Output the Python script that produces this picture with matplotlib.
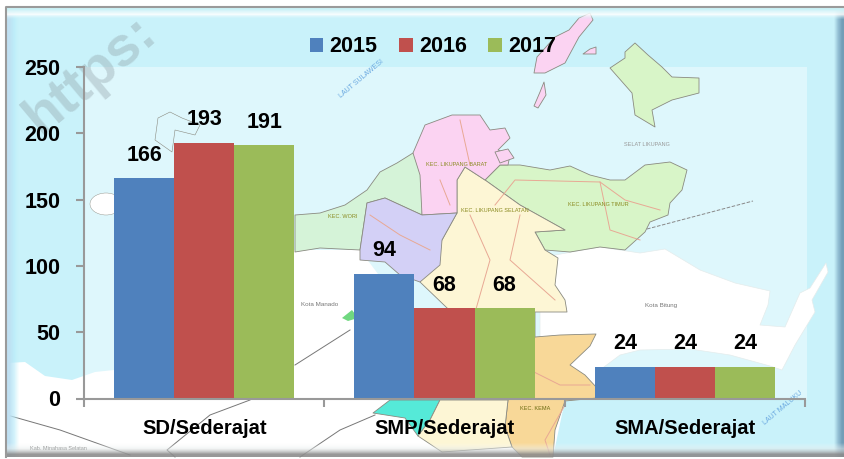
#!/usr/bin/env python3
"""Jumlah sekolah per jenjang 2015-2017, bars over a pale map backdrop."""
import matplotlib
matplotlib.use("Agg")
import matplotlib.pyplot as plt
from matplotlib.patches import Polygon, Rectangle, Ellipse
import numpy as np

# Data
categories = ["SD/Sederajat", "SMP/Sederajat", "SMA/Sederajat"]
years = ["2015", "2016", "2017"]
values_2015 = [166, 94, 24]
values_2016 = [193, 68, 24]
values_2017 = [191, 68, 24]
y_ticks = [0, 50, 100, 150, 200, 250]

C_2015 = "#4F81BD"
C_2016 = "#C0504D"
C_2017 = "#9BBB59"

# Map colours
C_SEA = "#c9f2fa"
C_SEA2 = "#def7fc"
C_PINK = "#fbd3f2"
C_GREEN = "#d8f5c8"
C_TEAL = "#d5f3d8"
C_CREAM = "#fdf6d5"
C_PURPLE = "#d3d0f6"
C_ORANGE = "#f8d898"
C_CYAN = "#55ead8"
C_COAST = "#8a8a80"
C_ROAD = "#e8a894"

plt.rcParams["font.family"] = ["Liberation Sans", "DejaVu Sans"]

fig = plt.figure(figsize=(8.44, 4.59), dpi=100, facecolor="white")

# === Backdrop, in picture pixels ===
bg = fig.add_axes([0, 0, 1, 1], zorder=0)
bg.set_xlim(0, 844)
bg.set_ylim(459, 0)
bg.axis("off")

bg.add_patch(Rectangle((7, 7), 837, 450, facecolor=C_SEA, edgecolor="none", zorder=1))
bg.add_patch(Rectangle((85, 67), 722, 333, facecolor=C_SEA2, edgecolor="none", zorder=1))


def land(pts, color, edge=C_COAST, lw=0.6):
    bg.add_patch(Polygon(pts, closed=True, facecolor=color, edgecolor=edge,
                         linewidth=lw, zorder=2, joinstyle="round"))


# white mainland and Manado/Minahasa
land([(7, 363), (25, 362), (45, 376), (72, 380), (95, 372), (114, 370), (114, 250), (295, 250),
      (360, 250), (420, 330), (520, 340), (595, 335), (600, 398), (565, 400), (553, 457), (7, 457)],
     "white", edge="none")
# Bitung
land([(555, 255), (600, 247), (640, 253), (665, 249), (700, 270), (735, 283), (770, 291), (768, 305),
      (760, 325), (785, 327), (800, 293), (810, 288), (826, 263), (828, 272), (812, 300), (815, 312),
      (795, 345), (782, 370), (770, 366), (730, 355), (690, 349), (640, 350), (620, 355), (600, 370),
      (597, 398), (540, 398), (540, 340), (540, 300)], "white", edge="#e4ecec", lw=0.5)
# Wori
land([(295, 215), (320, 213), (345, 205), (367, 190), (380, 172), (397, 163), (413, 153), (425, 160),
      (422, 215), (385, 198), (367, 203), (360, 250), (320, 248), (295, 252)], C_TEAL)
# Likupang Timur
land([(485, 180), (500, 165), (520, 165), (550, 170), (570, 166), (590, 175), (610, 180), (625, 180),
      (645, 165), (670, 162), (687, 170), (682, 190), (670, 203), (668, 215), (650, 222), (645, 232),
      (625, 250), (600, 247), (570, 252), (545, 250), (535, 232), (565, 230), (520, 205)], C_GREEN)
# Dimembe / Likupang Selatan
land([(465, 167), (485, 180), (520, 205), (565, 230), (535, 232), (545, 250), (558, 258), (555, 285),
      (565, 300), (567, 312), (535, 312), (535, 337), (470, 330), (420, 282), (442, 240), (457, 213),
      (457, 180)], C_CREAM)
# Likupang Barat
land([(413, 153), (425, 125), (452, 115), (480, 115), (490, 130), (505, 128), (510, 138), (498, 150),
      (510, 155), (508, 165), (500, 165), (485, 180), (465, 167), (457, 180), (457, 213), (422, 215),
      (420, 175)], C_PINK)
land([(495, 152), (508, 149), (514, 158), (500, 163)], C_PINK)
# Talawaan
land([(360, 250), (367, 203), (385, 198), (422, 215), (457, 213), (442, 240), (440, 265), (420, 282),
      (400, 275), (385, 262), (360, 260)], C_PURPLE)
# Kema
land([(535, 337), (560, 335), (596, 334), (590, 346), (570, 365), (585, 375), (597, 388), (597, 398),
      (565, 401), (555, 430), (553, 457), (522, 457), (512, 447), (505, 427), (508, 400)], C_ORANGE)
land([(420, 330), (535, 337), (508, 400), (430, 400)], C_CREAM, edge="none")
# Tombariri
land([(373, 413), (390, 400), (440, 400), (430, 420), (418, 436), (405, 418)], C_CYAN)
land([(440, 400), (508, 400), (505, 427), (512, 447), (442, 452), (418, 436), (430, 420)], C_CREAM, edge=C_COAST)
land([(342, 318), (352, 310), (358, 318), (348, 321)], "#70d880", edge="none")
# Bangka, Talise, Lihaga
land([(635, 43), (648, 55), (662, 67), (672, 77), (699, 78), (699, 93), (672, 100), (652, 110), (655, 127),
      (635, 115), (632, 93), (610, 68), (625, 58), (625, 52)], C_GREEN)
land([(590, 13), (593, 20), (579, 37), (565, 63), (545, 73), (534, 73), (537, 57), (555, 37), (569, 30),
      (579, 18)], C_PINK)
land([(583, 54), (590, 49), (596, 47), (596, 54)], C_PINK)
land([(544, 82), (546, 95), (538, 108), (534, 106), (540, 92)], C_PINK)
# small islands north of Wori
land([(158, 118), (170, 112), (182, 118), (200, 125), (195, 135), (175, 130), (172, 152), (155, 140)],
     C_SEA2, lw=0.4)
bg.add_patch(Ellipse((106, 204), 32, 22, facecolor="white", edgecolor=C_COAST, linewidth=0.3, zorder=2))

for pts in ([(7, 415), (60, 430), (130, 455)], [(250, 400), (210, 415), (167, 450), (175, 457)],
            [(375, 415), (340, 430), (300, 457)], [(295, 365), (350, 330)]):
    x, y = zip(*pts)
    bg.plot(x, y, color="#777777", linewidth=0.7, zorder=3)

# roads
for pts in ([(460, 120), (470, 165)], [(440, 180), (450, 205)], [(495, 205), (515, 180), (600, 182), (625, 200), (660, 210)],
            [(470, 215), (490, 260), (470, 330)], [(520, 215), (510, 260), (555, 300)],
            [(600, 182), (610, 230), (640, 240)], [(370, 215), (400, 235), (430, 250)],
            [(530, 370), (560, 385), (590, 385)], [(565, 405), (545, 440), (550, 455)]):
    x, y = zip(*pts)
    bg.plot(x, y, color=C_ROAD, linewidth=0.7, zorder=3)
bg.plot([647, 753], [229, 201], color="#888888", linewidth=0.7, linestyle="--", zorder=3)

for x, y, s, col, rot, fs in [
        (361, 79, "LAUT SULAWESI", "#6aa8e0", 40, 5),
        (783, 408, "LAUT MALUKU", "#6aa8e0", 40, 5),
        (320, 304, "Kota Manado", "#777777", 0, 4.5),
        (661, 305, "Kota Bitung", "#777777", 0, 4.5),
        (58, 449, "Kab. Minahasa Selatan", "#666666", 0, 4),
        (457, 164, "KEC. LIKUPANG BARAT", "#8a8a20", 0, 4),
        (495, 211, "KEC. LIKUPANG SELATAN", "#8a8a20", 0, 4),
        (598, 204, "KEC. LIKUPANG TIMUR", "#8a8a20", 0, 4),
        (343, 216, "KEC. WORI", "#8a8a20", 0, 4),
        (535, 409, "KEC. KEMA", "#6a6a10", 0, 4),
        (647, 144, "SELAT LIKUPANG", "#999999", 0, 4)]:
    bg.text(x, y, s, color=col, rotation=rot, fontsize=fs, ha="center", va="center", zorder=3)

# watermark
bg.text(90, 76, "https:", fontsize=40, fontweight="bold", color="#8a9aa0", alpha=0.35, rotation=40,
        ha="center", va="center", zorder=4)


# bevel of the frame
def gradient(extent, colors_alpha, horizontal=True):
    a = np.array(colors_alpha, dtype=float)[None, :, :]
    if not horizontal:
        a = a.transpose(1, 0, 2)
    bg.imshow(a, extent=extent, aspect="auto", interpolation="bilinear", zorder=5)


bg.set_autoscale_on(False)
gradient((832, 844, 457, 7), [(.55, .72, .8, 0), (.5, .68, .78, .7), (.45, .62, .72, 1)])
gradient((7, 22, 457, 7), [(.75, .88, .95, 1), (.72, .92, .98, .6), (.78, .95, .98, 0)])
gradient((7, 844, 22, 7), [(.8, .95, .97, 1), (1, 1, 1, .85), (.8, .95, .98, 0)], horizontal=False)
gradient((7, 844, 457, 440), [(1, 1, 1, 0), (.9, .92, .92, .5), (.55, .55, .55, .9)], horizontal=False)
bg.plot([6, 6, 844], [457, 7, 7], color="#9a9a9a", linewidth=1.5, zorder=6)
bg.set_xlim(0, 844)
bg.set_ylim(459, 0)

# === Chart ===
ax = fig.add_axes([84 / 844, 1 - 398.5 / 459, 721 / 844, 331.5 / 459], zorder=1)
ax.patch.set_alpha(0)

x = np.arange(len(categories))
width = 0.25
b1 = ax.bar(x - width, values_2015, width, color=C_2015, label=years[0])
b2 = ax.bar(x, values_2016, width, color=C_2016, label=years[1])
b3 = ax.bar(x + width, values_2017, width, color=C_2017, label=years[2])

for bars in (b1, b2, b3):
    ax.bar_label(bars, padding=9, fontsize=15.5, fontweight="bold", color="black")

ax.set_xlim(-0.5, 2.5)
ax.set_ylim(0, 250)
ax.set_yticks(y_ticks)
ax.set_xticks(np.arange(len(categories) + 1) - 0.5)
ax.set_xticklabels([])
ax.set_xticks(x, categories, minor=True)

for side in ("top", "right"):
    ax.spines[side].set_visible(False)
for side in ("left", "bottom"):
    ax.spines[side].set_color("#999999")
    ax.spines[side].set_linewidth(1.5)

ax.tick_params(axis="both", which="major", color="#999999", width=1.5, length=6)
ax.tick_params(axis="y", labelsize=15.5, pad=11)
ax.tick_params(axis="x", which="minor", length=0, labelsize=14.5, pad=15)
for lab in ax.get_yticklabels() + ax.get_xticklabels(minor=True):
    lab.set_fontweight("bold")

leg = ax.legend(loc="center", bbox_to_anchor=(433 / 844, 1 - 47 / 459), bbox_transform=fig.transFigure,
                ncol=3, frameon=False, handlelength=0.65, handleheight=0.65, handletextpad=0.28,
                columnspacing=1.0, prop={"size": 15.5, "weight": "bold"})

fig.savefig("out.png", dpi=100, facecolor="white")
plt.close(fig)
